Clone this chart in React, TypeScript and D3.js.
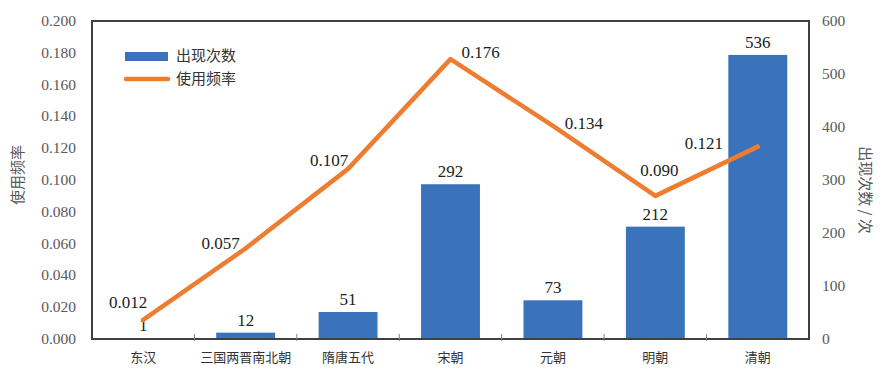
import * as d3 from "d3";
import React from "react";

const dynasties = ["东汉", "三国两晋南北朝", "隋唐五代", "宋朝", "元朝", "明朝", "清朝"];
const counts = [1, 12, 51, 292, 73, 212, 536];
const freqs = [0.012, 0.057, 0.107, 0.176, 0.134, 0.09, 0.121];
const freqTicks = [0, 0.02, 0.04, 0.06, 0.08, 0.1, 0.12, 0.14, 0.16, 0.18, 0.2];
const countTicks = [0, 100, 200, 300, 400, 500, 600];

// where excel dropped the line labels, relative to each point
const lineLabelOffsets: [number, number][] = [
  [-15, -18], [-25, -5], [-19, -9], [30, -7], [31, -3], [4, -26], [-54, -4],
];

const W = 883;
const H = 370;
const m = { left: 92, right: 809, top: 21, bottom: 339 };
const BLUE = "#3a72bb";
const ORANGE = "#ed7d31";
const GREY = "#595959";
const serif = "'Liberation Serif', 'Times New Roman', serif";
const cjk = "'Noto Sans CJK SC', 'Noto Sans', sans-serif";

export default function App() {
  const x = d3.scaleBand<string>().domain(dynasties).range([m.left, m.right]).paddingInner(0).paddingOuter(0);
  const yL = d3.scaleLinear().domain([0, 0.2]).range([m.bottom, m.top]);
  const yR = d3.scaleLinear().domain([0, 600]).range([m.bottom, m.top]);
  const bw = x.bandwidth() * 0.575;
  const cx = (d: string) => (x(d) as number) + x.bandwidth() / 2;

  const line = d3
    .line<number>()
    .x((_, i) => cx(dynasties[i]))
    .y((d) => yL(d));

  const boundaries = dynasties.slice(1).map((d) => x(d) as number);

  return (
    <svg width={W} height={H} style={{ position: "absolute", left: 0, top: 0, background: "#fff" }}>
      {/* bars */}
      {counts.map((c, i) => (
        <rect
          key={"b" + i}
          x={cx(dynasties[i]) - bw / 2}
          y={yR(c)}
          width={bw}
          height={m.bottom - yR(c)}
          fill={BLUE}
        />
      ))}
      {counts.map((c, i) => (
        <text
          key={"bl" + i}
          x={cx(dynasties[i])}
          y={yR(c) - 7}
          textAnchor="middle"
          fontFamily={serif}
          fontSize={17}
          fill="#222"
        >
          {c}
        </text>
      ))}

      {/* line */}
      <path
        d={line(freqs) || ""}
        fill="none"
        stroke={ORANGE}
        strokeWidth={4.5}
        strokeLinejoin="round"
        strokeLinecap="round"
      />
      {freqs.map((f, i) => (
        <text
          key={"ll" + i}
          x={cx(dynasties[i]) + lineLabelOffsets[i][0]}
          y={yL(f) + lineLabelOffsets[i][1] + 6}
          textAnchor="middle"
          fontFamily={serif}
          fontSize={17}
          fill="#222"
        >
          {d3.format(".3f")(f)}
        </text>
      ))}

      {/* frame */}
      <rect
        x={m.left}
        y={m.top}
        width={m.right - m.left}
        height={m.bottom - m.top}
        fill="none"
        stroke="#404040"
        strokeWidth={2}
      />
      {boundaries.map((b, i) => (
        <line key={"t" + i} x1={b} x2={b} y1={m.bottom - 5} y2={m.bottom + 2} stroke="#808080" strokeWidth={1} />
      ))}

      {/* left axis */}
      {freqTicks.map((t) => (
        <text
          key={"yl" + t}
          x={76}
          y={yL(t) + 5}
          textAnchor="end"
          fontFamily={serif}
          fontSize={15.5}
          fill={GREY}
        >
          {d3.format(".3f")(t)}
        </text>
      ))}
      {/* right axis */}
      {countTicks.map((t) => (
        <text
          key={"yr" + t}
          x={822}
          y={yR(t) + 5}
          textAnchor="start"
          fontFamily={serif}
          fontSize={15.5}
          fill={GREY}
        >
          {t}
        </text>
      ))}

      {/* category labels */}
      {dynasties.map((d) => (
        <text
          key={"c" + d}
          x={cx(d)}
          y={362}
          textAnchor="middle"
          fontFamily={cjk}
          fontSize={13}
          fill="#333"
        >
          {d}
        </text>
      ))}

      {/* axis titles */}
      <text
        transform={`translate(23,175) rotate(-90)`}
        textAnchor="middle"
        fontFamily={cjk}
        fontSize={15}
        fill={GREY}
      >
        使用频率
      </text>
      <text
        transform={`translate(860,190) rotate(90)`}
        textAnchor="middle"
        fontFamily={cjk}
        fontSize={15}
        fill={GREY}
      >
        出现次数 / 次
      </text>

      {/* legend */}
      <rect x={125} y={52} width={43} height={9} fill={BLUE} />
      <line x1={126} x2={168} y1={79} y2={79} stroke={ORANGE} strokeWidth={4.5} strokeLinecap="round" />
      <text x={176} y={61} fontFamily={cjk} fontSize={15} fill="#333">
        出现次数
      </text>
      <text x={176} y={84} fontFamily={cjk} fontSize={15} fill="#333">
        使用频率
      </text>
    </svg>
  );
}
